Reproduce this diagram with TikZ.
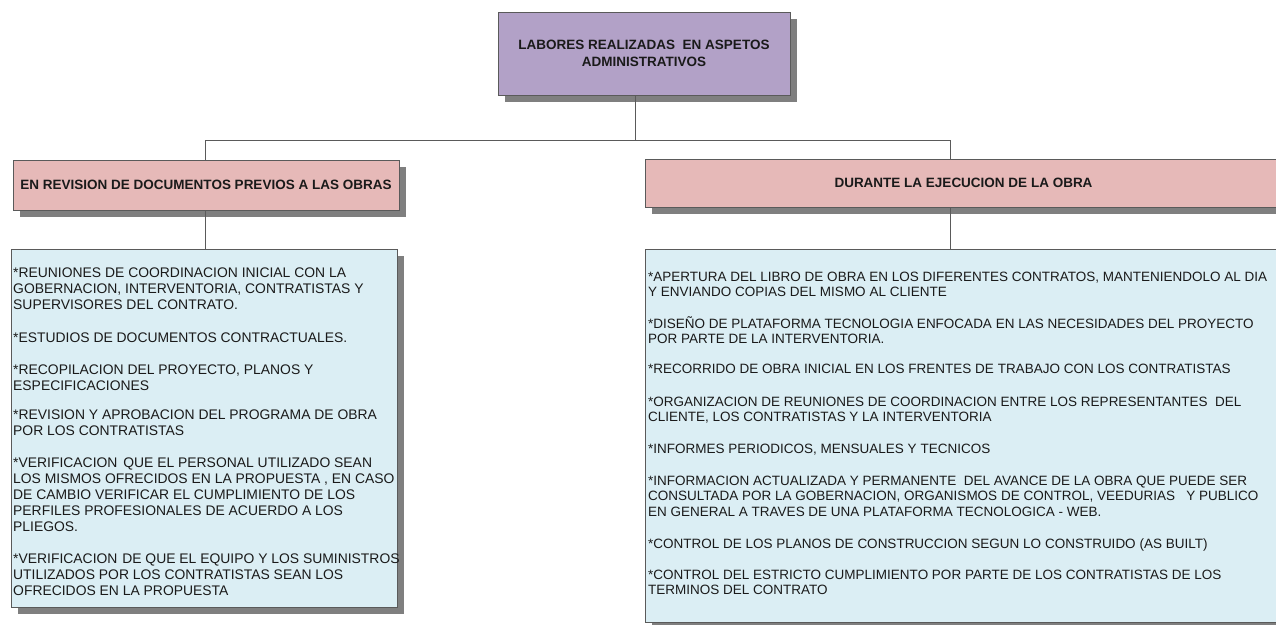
\documentclass[tikz,border=0pt]{standalone}
\usepackage{fontspec}
\setmainfont{Liberation Sans}
\usetikzlibrary{shadows}
\definecolor{toppurple}{HTML}{B2A1C7}
\definecolor{secpink}{HTML}{E6B9B8}
\definecolor{itemblue}{HTML}{DBEEF4}
\definecolor{edgegray}{HTML}{5A5A5A}
\definecolor{shadegray}{HTML}{7F7F7F}
\definecolor{txt}{HTML}{1A1A1A}
\begin{document}
\begin{tikzpicture}[x=1pt,y=-1pt,
  boxbase/.style={draw=edgegray, line width=0.9pt, inner sep=0pt,
    text=txt, font=\fontsize{13.5}{17}\selectfont\bfseries, align=center,
    drop shadow={shadow xshift=6.5pt, shadow yshift=-6.5pt, fill=shadegray, opacity=1}},
  topbox/.style={boxbase, fill=toppurple},
  pinkbox/.style={boxbase, fill=secpink},
  bluebox/.style={boxbase, fill=itemblue},
  itemtext/.style={anchor=base west, inner sep=0pt, align=left, text=txt},
  lefttext/.style={itemtext, font=\fontsize{13.9}{16}\selectfont},
  righttext/.style={itemtext, font=\fontsize{13.5}{15.8}\selectfont},
  link/.style={draw=edgegray, line width=0.9pt}]
\useasboundingbox (0,0) rectangle (1276,624);
\fill[white] (0,0) rectangle (1276,624);

\node[topbox, minimum width=292pt, minimum height=83pt] (top) at (644,53.5)
  {LABORES REALIZADAS\ \ EN ASPETOS\\ADMINISTRATIVOS};
\node[pinkbox, minimum width=386pt, minimum height=50pt] (lpk) at (206,185)
  {EN REVISION DE DOCUMENTOS PREVIOS A LAS OBRAS};
\node[pinkbox, minimum width=645pt, minimum height=48pt] (rpk) at (967.5,183)
  {\hspace*{-8pt}DURANTE LA EJECUCION DE LA OBRA};
\node[bluebox, minimum width=386pt, minimum height=358pt] (lbl) at (204,428) {};
\node[bluebox, minimum width=645pt, minimum height=373pt] (rbl) at (967.5,435.5) {};

\coordinate (tj) at (635,140);
\coordinate (lj) at (205,140);
\coordinate (rj) at (950,140);
\draw[link] (top.south -| tj) -- (tj);
\draw[link] (lj) -- (rj);
\draw[link] (lj) -- (lpk.north -| lj);
\draw[link] (rj) -- (rpk.north -| rj);
\draw[link] (lpk.south -| lj) -- (lbl.north -| lj);
\draw[link] (rpk.south -| rj) -- (rbl.north -| rj);

% anchor base = baseline of the LAST line of each paragraph
\node[lefttext] (l1) at (13,309) {*REUNIONES DE COORDINACION INICIAL CON LA\\GOBERNACION, INTERVENTORIA, CONTRATISTAS Y\\SUPERVISORES DEL CONTRATO.};
\node[lefttext] (l2) at (13,342) {*ESTUDIOS DE DOCUMENTOS CONTRACTUALES.};
\node[lefttext] (l3) at (13,390) {*RECOPILACION DEL PROYECTO, PLANOS Y\\ESPECIFICACIONES};
\node[lefttext] (l4) at (13,435) {*REVISION Y APROBACION DEL PROGRAMA DE OBRA\\POR LOS CONTRATISTAS};
\node[lefttext] (l5) at (13,531) {*VERIFICACION\hspace{2pt} QUE EL PERSONAL UTILIZADO SEAN\\LOS MISMOS OFRECIDOS EN LA PROPUESTA , EN CASO\\DE CAMBIO VERIFICAR EL CUMPLIMIENTO DE LOS\\PERFILES PROFESIONALES DE ACUERDO A LOS\\PLIEGOS.};
\node[lefttext] (l6) at (13,595) {*VERIFICACION\hspace{1pt} DE QUE EL EQUIPO Y LOS SUMINISTROS\\UTILIZADOS POR LOS CONTRATISTAS SEAN LOS\\OFRECIDOS EN LA PROPUESTA};

\node[righttext] (r1) at (648,296.8) {*APERTURA DEL LIBRO DE OBRA EN LOS DIFERENTES CONTRATOS, MANTENIENDOLO AL DIA\\Y ENVIANDO COPIAS DEL MISMO AL CLIENTE};
\node[righttext] (r2) at (648,343.8) {*DISEÑO DE PLATAFORMA TECNOLOGIA ENFOCADA EN LAS NECESIDADES DEL PROYECTO\\POR PARTE DE LA INTERVENTORIA.};
\node[righttext] (r3) at (648,373) {*RECORRIDO DE OBRA INICIAL EN LOS FRENTES DE TRABAJO CON LOS CONTRATISTAS};
\node[righttext] (r4) at (648,421.8) {*ORGANIZACION DE REUNIONES DE COORDINACION ENTRE LOS REPRESENTANTES\ \ DEL\\CLIENTE, LOS CONTRATISTAS Y LA INTERVENTORIA};
\node[righttext] (r5) at (648,453) {*INFORMES PERIODICOS, MENSUALES Y TECNICOS};
\node[righttext] (r6) at (648,516.6) {*INFORMACION ACTUALIZADA Y PERMANENTE\ \ DEL AVANCE DE LA OBRA QUE PUEDE SER\\CONSULTADA POR LA GOBERNACION, ORGANISMOS DE CONTROL, VEEDURIAS\ \ \ Y PUBLICO\\EN GENERAL A TRAVES DE UNA PLATAFORMA TECNOLOGICA - WEB.};
\node[righttext] (r7) at (648,548) {*CONTROL DE LOS PLANOS DE CONSTRUCCION SEGUN LO CONSTRUIDO (AS BUILT)};
\node[righttext] (r8) at (648,594.8) {*CONTROL DEL ESTRICTO CUMPLIMIENTO POR PARTE DE LOS CONTRATISTAS DE LOS\\TERMINOS DEL CONTRATO};
\end{tikzpicture}
\end{document}
